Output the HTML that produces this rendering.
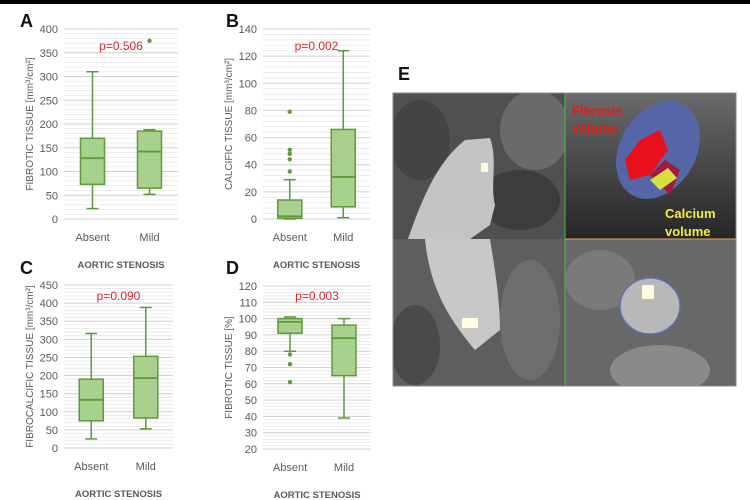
<!DOCTYPE html>
<html><head><meta charset="utf-8">
<style>
body{margin:0;background:#fff;width:750px;height:500px;overflow:hidden;font-family:"Liberation Sans",sans-serif}
svg{position:absolute;left:0;top:0}
</style></head>
<body>
<svg id="s" width="750" height="500" xmlns="http://www.w3.org/2000/svg">
<defs>
<linearGradient id="g3d" x1="0" y1="0" x2="0" y2="1"><stop offset="0" stop-color="#6a6a6a"/><stop offset="1" stop-color="#262626"/></linearGradient>
<clipPath id="cTL"><rect x="393" y="93" width="172" height="146"/></clipPath>
<clipPath id="cBL"><rect x="393" y="239" width="172" height="147"/></clipPath>
<clipPath id="cBR"><rect x="565" y="239" width="171" height="147"/></clipPath>
</defs>
<rect x="0" y="0" width="750" height="4" fill="#000"/>
<g id="charts"></g>
<g>
<text x="398" y="80" font-size="18" font-weight="bold" fill="#111">E</text>
<g clip-path="url(#cTL)">
<rect x="393" y="93" width="172" height="146" fill="#505050"/>
<ellipse cx="420" cy="140" rx="30" ry="40" fill="#444"/>
<ellipse cx="535" cy="130" rx="35" ry="40" fill="#6a6a6a"/>
<ellipse cx="520" cy="200" rx="40" ry="30" fill="#3c3c3c"/>
<path d="M408,239 C425,190 440,160 465,140 L490,138 C498,160 490,185 495,205 L490,225 L470,239 Z" fill="#c4c4c4"/>
<rect x="481" y="163" width="7" height="9" fill="#fffde0"/>
</g>
<g>
<rect x="565" y="93" width="171" height="146" fill="url(#g3d)"/>
<ellipse cx="658" cy="150" rx="38" ry="52" transform="rotate(30 658 150)" fill="#5566a8"/>
<path d="M625,160 L640,140 L660,130 L668,150 L650,175 L630,180 Z" fill="#e8101c"/>
<path d="M650,175 L665,160 L680,170 L670,195 Z" fill="#a01a40"/>
<path d="M650,180 L668,168 L677,178 L660,190 Z" fill="#d8e040"/>
<text x="572" y="115" font-size="13" font-weight="bold" fill="#e31b1b">Fibrosis</text>
<text x="572" y="133" font-size="13" font-weight="bold" fill="#e31b1b">volume</text>
<text x="665" y="218" font-size="13" font-weight="bold" fill="#f2f03c">Calcium</text>
<text x="665" y="236" font-size="13" font-weight="bold" fill="#f2f03c">volume</text>
</g>
<g clip-path="url(#cBL)">
<rect x="393" y="239" width="172" height="147" fill="#5e5e5e"/>
<ellipse cx="415" cy="345" rx="25" ry="40" fill="#4a4a4a"/>
<ellipse cx="530" cy="320" rx="30" ry="60" fill="#6e6e6e"/>
<path d="M425,239 L490,239 C495,270 500,300 500,330 L475,350 C450,320 430,290 425,239 Z" fill="#c8c8c8"/>
<rect x="462" y="318" width="16" height="10" fill="#fffde0"/>
</g>
<g clip-path="url(#cBR)">
<rect x="565" y="239" width="171" height="147" fill="#686868"/>
<ellipse cx="600" cy="280" rx="35" ry="30" fill="#7a7a7a"/>
<ellipse cx="660" cy="370" rx="50" ry="25" fill="#8a8a8a"/>
<ellipse cx="650" cy="306" rx="30" ry="28" fill="#b8b8b8" stroke="#6070b0" stroke-width="1.5"/>
<rect x="642" y="285" width="12" height="14" fill="#fffde0"/>
</g>
<line x1="565" y1="239" x2="736" y2="239" stroke="#e8a060" stroke-width="1"/>
<line x1="565" y1="93" x2="565" y2="386" stroke="#40c040" stroke-width="1"/>
<rect x="393" y="93" width="343" height="293" fill="none" stroke="#888" stroke-width="1"/>
</g>
</svg>
<script>
// Panel A
const catsA=["Absent","Mild"];
const statsA=[[22,73,128,170,310],[52,65,142,185,188]];
const outA=[[],[375]];
// Panel B
const catsB=["Absent","Mild"];
const statsB=[[0,0.5,2,14,29],[1,9,31,66,124]];
const outB=[[35,44,48,51,79],[]];
// Panel C
const catsC=["Absent","Mild"];
const statsC=[[25,75,133,190,316],[53,83,193,253,388]];
const outC=[[],[]];
// Panel D
const catsD=["Absent","Mild"];
const statsD=[[80,91,98,100,101],[39,65,88,96,100]];
const outD=[[61,72,78],[]];

const NS="http://www.w3.org/2000/svg";
const root=document.getElementById('charts');
function mk(t,a,p){const e=document.createElementNS(NS,t);for(const k in a)e.setAttribute(k,a[k]);(p||root).appendChild(e);return e;}

function box(cfg){
  const g=mk('g',{});
  
  
  const y=v=>cfg.y0+(v-cfg.min)/(cfg.max-cfg.min)*(cfg.y1-cfg.y0);
  for(let v=cfg.min;v<=cfg.max+1e-9;v+=cfg.minor){
    mk('line',{x1:cfg.x0,x2:cfg.x1,y1:y(v),y2:y(v),stroke:'#e6e6e6','stroke-width':0.8},g);
  }
  for(let v=cfg.min;v<=cfg.max+1e-9;v+=cfg.step){
    mk('line',{x1:cfg.x0,x2:cfg.x1,y1:y(v),y2:y(v),stroke:'#d0d0d0','stroke-width':1},g);
    const t=mk('text',{x:cfg.x0-6,y:y(v)+4,'font-size':11,'text-anchor':'end',fill:'#595959'},g);
    t.textContent=v;
    
    
  }
  const w=(cfg.x1-cfg.x0)/cfg.cats.length;
  cfg.cats.forEach((c,i)=>{
    const cx=cfg.x0+w*(i+0.5), bw=24, s=cfg.stats[i];
    const b=mk('g',{},g);
    
    
    mk('line',{x1:cx,x2:cx,y1:y(s[0]),y2:y(s[1]),stroke:'#5e9a3c','stroke-width':1.5},b);
    mk('line',{x1:cx,x2:cx,y1:y(s[3]),y2:y(s[4]),stroke:'#5e9a3c','stroke-width':1.5},b);
    mk('line',{x1:cx-6,x2:cx+6,y1:y(s[0]),y2:y(s[0]),stroke:'#5e9a3c','stroke-width':1.5},b);
    mk('line',{x1:cx-6,x2:cx+6,y1:y(s[4]),y2:y(s[4]),stroke:'#5e9a3c','stroke-width':1.5},b);
    mk('rect',{x:cx-bw/2,y:y(s[3]),width:bw,height:y(s[1])-y(s[3]),fill:'#a9d18e',stroke:'#5e9a3c','stroke-width':1.5},b);
    mk('line',{x1:cx-bw/2,x2:cx+bw/2,y1:y(s[2]),y2:y(s[2]),stroke:'#5e9a3c','stroke-width':1.8},b);
    cfg.out[i].forEach(o=>{
      const d=mk('circle',{cx:cx,cy:y(o),r:2.2,fill:'#5e9a3c'},b);
      
      
    });
    const t=mk('text',{x:cx,y:cfg.y0+22,'font-size':11,'text-anchor':'middle',fill:'#595959'},g);
    t.textContent=c;
    
    
  });
  const xt=mk('text',{x:(cfg.x0+cfg.x1)/2,y:cfg.y0+49,'font-size':9.5,'font-weight':'bold','text-anchor':'middle',fill:'#595959'},g);
  xt.textContent='AORTIC STENOSIS';
  
  
  const yx=cfg.x0-31, ym=(cfg.y0+cfg.y1)/2;
  const yt=mk('text',{x:yx,y:ym,'font-size':10,'text-anchor':'middle',fill:'#595959',transform:`rotate(-90 ${yx} ${ym})`},g);
  yt.textContent=cfg.ytitle;
  
  
  const p=mk('text',{x:(cfg.x0+cfg.x1)/2,y:cfg.py,'font-size':12,'text-anchor':'middle',fill:'#d9262c'},g);
  p.textContent=cfg.p;
  
  
  const L=mk('text',{x:cfg.lx,y:cfg.ly,'font-size':18,'font-weight':'bold',fill:'#111'},g);
  L.textContent=cfg.label;
  
  
}
box({name:'chart-a',cats:catsA,stats:statsA,out:outA,min:0,max:400,step:50,minor:10,x0:64,x1:178,y0:219,y1:29,ytitle:'FIBROTIC TISSUE [mm³/cm²]',p:'p=0.506',py:50,label:'A',lx:20,ly:27});
box({name:'chart-b',cats:catsB,stats:statsB,out:outB,min:0,max:140,step:20,minor:4,x0:263,x1:370,y0:219,y1:29,ytitle:'CALCIFIC TISSUE [mm³/cm²]',p:'p=0.002',py:50,label:'B',lx:226,ly:27});
box({name:'chart-c',cats:catsC,stats:statsC,out:outC,min:0,max:450,step:50,minor:10,x0:64,x1:173,y0:448,y1:285,ytitle:'FIBROCALCIFIC TISSUE [mm³/cm²]',p:'p=0.090',py:300,label:'C',lx:20,ly:274});
box({name:'chart-d',cats:catsD,stats:statsD,out:outD,min:20,max:120,step:10,minor:2,x0:263,x1:371,y0:449,y1:286,ytitle:'FIBROTIC TISSUE [%]',p:'p=0.003',py:300,label:'D',lx:226,ly:274});
</script>
</body></html>
